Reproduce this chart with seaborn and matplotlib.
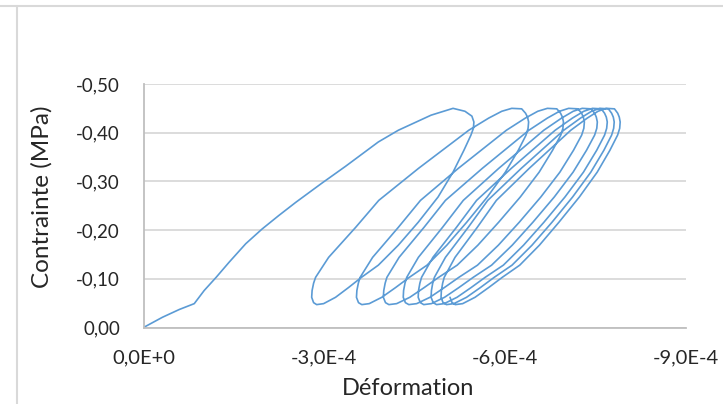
import numpy as np
import pandas as pd
import matplotlib
matplotlib.use("Agg")
import matplotlib.pyplot as plt
from matplotlib.lines import Line2D
import seaborn as sns

# ---- data (strain in units of 1e-4, stress in MPa, as magnitudes; plotted negative) ----
load_strain = [0.000, 0.314, 0.594, 0.842, 1.007, 1.205, 1.420, 1.696, 1.965, 2.245, 2.526,
               2.955, 3.352, 3.896, 4.227, 4.771, 5.135, 5.333, 5.448, 5.481]
load_stress = [0.000, 0.021, 0.037, 0.049, 0.076, 0.103, 0.134, 0.172, 0.202, 0.230, 0.257,
               0.296, 0.331, 0.381, 0.405, 0.436, 0.450, 0.444, 0.434, 0.422]

# unloading branch of the first cycle
unload1_strain = [5.473, 5.432, 5.316, 5.135, 4.887, 4.557, 4.227, 3.896, 3.616, 3.401,
                  3.186, 2.988, 2.873, 2.822, 2.790]

# stress path of every unloading branch (-0.45 -> -0.05 MPa)
unload_stress = [0.409, 0.395, 0.364, 0.319, 0.268, 0.216, 0.169, 0.128, 0.103, 0.082,
                 0.062, 0.049, 0.047, 0.051, 0.062]
# stress path of every reloading branch (-0.05 -> -0.45 MPa)
reload_stress = [0.076, 0.091, 0.103, 0.144, 0.206, 0.261, 0.327, 0.405, 0.430, 0.444,
                 0.450, 0.449, 0.440, 0.432, 0.422]

# cycles 2..8: reloading strains followed by unloading strains
cycle2_strain = [2.797, 2.822, 2.855, 3.071, 3.522, 3.903, 4.565, 5.396, 5.727, 5.944, 6.109, 6.274, 6.338, 6.371, 6.389,
                 6.380, 6.346, 6.218, 6.003, 5.704, 5.361, 5.032, 4.704, 4.410, 4.182, 3.953, 3.745, 3.622, 3.567, 3.533]
cycle3_strain = [3.540, 3.564, 3.594, 3.801, 4.230, 4.595, 5.225, 6.020, 6.335, 6.541, 6.700, 6.857, 6.919, 6.950, 6.967,
                 6.958, 6.923, 6.787, 6.564, 6.251, 5.891, 5.547, 5.204, 4.897, 4.657, 4.418, 4.200, 4.071, 4.015, 3.979]
cycle4_strain = [3.986, 4.009, 4.038, 4.240, 4.656, 5.009, 5.623, 6.393, 6.700, 6.901, 7.053, 7.207, 7.268, 7.297, 7.314,
                 7.305, 7.269, 7.134, 6.908, 6.592, 6.233, 5.887, 5.541, 5.232, 4.991, 4.752, 4.532, 4.402, 4.345, 4.309]
cycle5_strain = [4.315, 4.338, 4.367, 4.560, 4.963, 5.305, 5.896, 6.640, 6.936, 7.129, 7.278, 7.426, 7.484, 7.512, 7.529,
                 7.520, 7.484, 7.350, 7.127, 6.815, 6.459, 6.117, 5.775, 5.470, 5.232, 4.994, 4.776, 4.649, 4.593, 4.557]
cycle6_strain = [4.563, 4.585, 4.613, 4.801, 5.194, 5.526, 6.104, 6.829, 7.116, 7.304, 7.449, 7.593, 7.649, 7.678, 7.694,
                 7.684, 7.649, 7.519, 7.299, 6.992, 6.642, 6.305, 5.970, 5.668, 5.435, 5.201, 4.988, 4.862, 4.806, 4.771]
cycle7_strain = [4.777, 4.798, 4.826, 5.009, 5.389, 5.711, 6.269, 6.971, 7.250, 7.433, 7.572, 7.712, 7.766, 7.794, 7.809,
                 7.800, 7.766, 7.638, 7.421, 7.119, 6.776, 6.445, 6.114, 5.818, 5.589, 5.359, 5.149, 5.026, 4.970, 4.936]
cycle8_strain = [4.942, 4.963, 4.989, 5.168, 5.539, 5.854, 6.401, 7.088, 7.362, 7.540, 7.677, 7.813, 7.867, 7.893, 7.908,
                 7.900, 7.865, 7.738, 7.527, 7.231, 6.891, 6.568, 6.242, 5.952, 5.726, 5.500, 5.295, 5.173, 5.119, 5.085]

x_ticks = [0.0, -3e-4, -6e-4, -9e-4]
x_tick_labels = ["0,0E+0", "-3,0E-4", "-6,0E-4", "-9,0E-4"]
y_ticks = [0.0, -0.1, -0.2, -0.3, -0.4, -0.5]
y_tick_labels = ["0,00", "-0,10", "-0,20", "-0,30", "-0,40", "-0,50"]

# ---- assemble the single continuous path ----
strain = list(load_strain) + list(unload1_strain)
stress = list(load_stress) + list(unload_stress)
cycle_stress = reload_stress + unload_stress
for cyc in [cycle2_strain, cycle3_strain, cycle4_strain, cycle5_strain,
            cycle6_strain, cycle7_strain, cycle8_strain]:
    strain += cyc
    stress += cycle_stress

df = pd.DataFrame({
    "Déformation": [-s * 1e-4 for s in strain],
    "Contrainte": [-v for v in stress],
})

sns.set_theme(style="white")
plt.rcParams["font.family"] = ["Lato", "DejaVu Sans"]

fig = plt.figure(figsize=(7.23, 4.04), dpi=100)
ax = fig.add_axes([143.5 / 723, 1 - 327.5 / 404, (686 - 143.5) / 723, (327.5 - 84) / 404])

sns.lineplot(data=df, x="Déformation", y="Contrainte", sort=False, estimator=None,
             color="#5B9BD5", linewidth=1.2, ax=ax)

ax.set_xlim(0, -9e-4)
ax.set_ylim(0, -0.5)
ax.set_xticks(x_ticks)
ax.set_xticklabels(x_tick_labels)
ax.set_yticks(y_ticks)
ax.set_yticklabels(y_tick_labels)

grid_c = "#D9D9D9"
axis_c = "#BFBFBF"
ax.yaxis.grid(True, color=grid_c, linewidth=1.3)
ax.xaxis.grid(False)
ax.set_axisbelow(True)
for side in ["top", "right"]:
    ax.spines[side].set_visible(False)
for side in ["left", "bottom"]:
    ax.spines[side].set_visible(True)
    ax.spines[side].set_color(axis_c)
    ax.spines[side].set_linewidth(1.3)

txt_c = "#262626"
ax.tick_params(axis="both", which="major", direction="out", length=5, width=1.2,
               color=axis_c, labelcolor=txt_c)
ax.tick_params(axis="x", pad=11, labelsize=14.5)
ax.tick_params(axis="y", pad=12, labelsize=13.5)

ax.set_xlabel("Déformation", fontsize=17, color=txt_c, labelpad=8)
ax.set_ylabel("Contrainte (MPa)", fontsize=17.5, color=txt_c, labelpad=17)
ax.xaxis.label.set_x(0.488)
ax.yaxis.label.set_y(0.538)

# outer frame fragments
fig.add_artist(Line2D([0, 1], [1 - 6 / 404, 1 - 6 / 404], transform=fig.transFigure,
                      color="#D9D9D9", linewidth=1.5))
fig.add_artist(Line2D([17 / 723, 17 / 723], [0, 1 - 6 / 404], transform=fig.transFigure,
                      color="#D9D9D9", linewidth=1.5))

fig.savefig("out.png", dpi=100, facecolor="white")
